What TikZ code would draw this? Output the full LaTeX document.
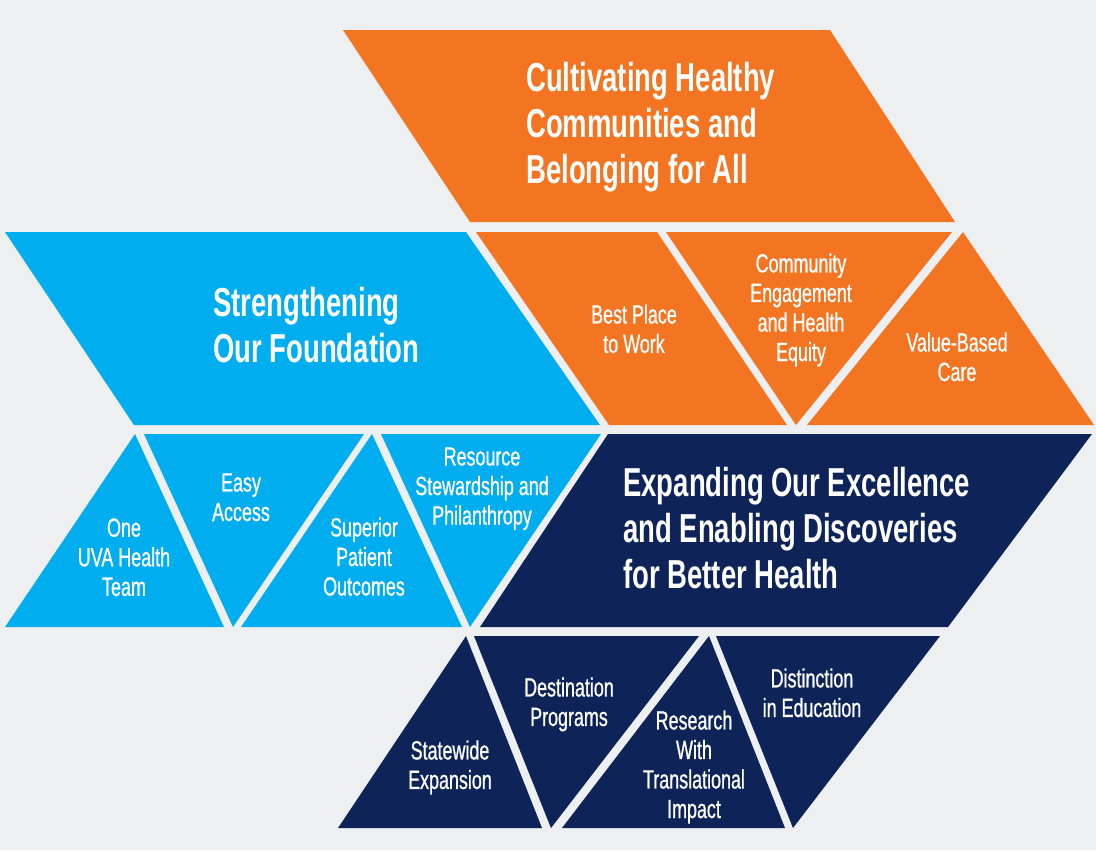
\documentclass[tikz,border=0pt]{standalone}
\usepackage{fontspec}
\setmainfont{Liberation Sans}[FakeStretch=0.68]
\newfontfamily\itemfont{Liberation Sans}[FakeStretch=0.68,FakeBold=0.8]
\usepackage{tikz}
\definecolor{UvaOrange}{HTML}{F37421}
\definecolor{UvaBlue}{HTML}{00AEEF}
\definecolor{UvaNavy}{HTML}{0E2357}
\definecolor{PaperGray}{HTML}{EEEFF1}

\begin{document}
\begin{tikzpicture}[
	x=0.02cm,
	y=-0.02cm,
	headline/.style={
		text=white,
		font=\fontsize{23}{26}\selectfont\bfseries,
		align=left,
		anchor=north west,
		inner sep=0pt
	},
	item/.style={
		text=white,
		font=\fontsize{15}{16.8}\selectfont\itemfont,
		align=center,
		anchor=north,
		inner sep=0pt
	}
]

\fill[PaperGray] (0,0) rectangle (1096,850);
\useasboundingbox (0,0) rectangle (1096,850);

% orange band
\fill[UvaOrange] (343,30) -- (830,30) -- (955,222) -- (470,222) -- cycle;
\fill[UvaOrange] (476,232) -- (657,232) -- (787,425) -- (609,425) -- cycle;
\fill[UvaOrange] (666,232) -- (952,232) -- (796,425) -- cycle;
\fill[UvaOrange] (963,232) -- (1094,425) -- (807,425) -- cycle;

% blue chevron
\fill[UvaBlue] (5,232) -- (466,232) -- (600,425) -- (134,425) -- cycle;
\fill[UvaBlue] (135,434) -- (224,627) -- (5,627) -- cycle;
\fill[UvaBlue] (144,434) -- (364,434) -- (233,627) -- cycle;
\fill[UvaBlue] (372,434) -- (462,627) -- (241,627) -- cycle;
\fill[UvaBlue] (381,434) -- (601,434) -- (470,627) -- cycle;

% navy band
\fill[UvaNavy] (608,434) -- (1092,434) -- (948,627) -- (480,627) -- cycle;
\fill[UvaNavy] (466,636) -- (542,828) -- (338,828) -- cycle;
\fill[UvaNavy] (474,636) -- (699,636) -- (551,828) -- cycle;
\fill[UvaNavy] (709,636) -- (785,828) -- (562,828) -- cycle;
\fill[UvaNavy] (716,636) -- (940,636) -- (793,828) -- cycle;

\node[headline] (cultivating) at (526,62)
	{Cultivating Healthy\\Communities and\\Belonging for All};
\node[headline] (strengthening) at (213,287)
	{Strengthening\\Our Foundation};
\node[headline] (expanding) at (623,467)
	{Expanding Our Excellence\\and Enabling Discoveries\\for Better Health};

\node[item] (bestplace) at (634,304) {Best Place\\to Work};
\node[item] (community) at (801,253) {Community\\Engagement\\and Health\\Equity};
\node[item] (valuebased) at (957,332) {Value-Based\\Care};

\node[item] (oneuva) at (124,518) {One\\UVA Health\\Team};
\node[item] (easyaccess) at (241,473) {Easy\\Access};
\node[item] (superior) at (364,517) {Superior\\Patient\\Outcomes};
\node[item] (resource) at (482,447) {Resource\\Stewardship and\\Philanthropy};

\node[item] (statewide) at (450,740) {Statewide\\Expansion};
\node[item] (destination) at (569,677) {Destination\\Programs};
\node[item] (research) at (694,710) {Research\\With\\Translational\\Impact};
\node[item] (distinction) at (812,668) {Distinction\\in Education};

\end{tikzpicture}
\end{document}
